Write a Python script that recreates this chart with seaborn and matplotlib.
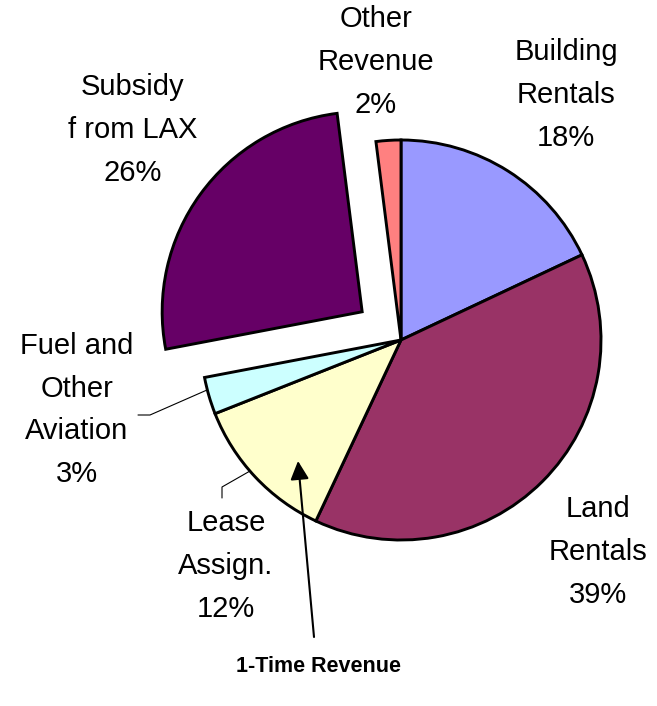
import matplotlib
matplotlib.use("Agg")
import matplotlib.pyplot as plt
import seaborn as sns

# revenue shares, clockwise from 12 o'clock
categories = ["Building Rentals", "Land Rentals", "Lease Assign.",
              "Fuel and Other Aviation", "Subsidy from LAX", "Other Revenue"]
shares = [18, 39, 12, 3, 26, 2]
labels = ["Building\nRentals\n18%", "Land\nRentals\n39%", "Lease\nAssign.\n12%",
          "Fuel and\nOther\nAviation\n3%", "Subsidy\nf rom LAX\n26%", "Other\nRevenue\n2%"]
colors = ["#9999FF", "#993366", "#FFFFCC", "#CCFFFF", "#660066", "#FF8080"]
explode_frac = [0, 0, 0, 0, 0.24, 0]

sns.set_theme(style="white")
plt.rcParams["font.family"] = ["Liberation Sans", "DejaVu Sans"]

W, H = 657, 706
fig = plt.figure(figsize=(W / 100, H / 100), dpi=100)
ax = fig.add_axes([0, 0, 1, 1])

cx, cy, r = 401, H - 340, 200
# matplotlib's explode is in data units, so scale by the radius
ax.pie(shares, colors=sns.color_palette(colors), explode=[e * r for e in explode_frac],
       startangle=90, counterclock=False, center=(cx, cy), radius=r, frame=True,
       wedgeprops=dict(edgecolor="black", linewidth=2.1))
ax.set_xlim(0, W)
ax.set_ylim(0, H)
ax.set_aspect("equal")
ax.axis("off")

# label positions (pixel coords from top-left)
label_pos = [(566, 95), (598, 552), (226, 566), (77, 410), (133, 130), (376, 62)]
for txt, (x, y) in zip(labels, label_pos):
    ax.text(x, H - y, txt, ha="center", va="center", fontsize=21,
            linespacing=1.67, color="black")

# leader lines
ax.plot([207, 150, 138], [H - 390, H - 415, H - 415], color="black", lw=0.8)
ax.plot([250, 222, 222], [H - 471, H - 487, H - 498], color="black", lw=0.8)

# 1-time revenue arrow
ax.annotate("", xy=(298, H - 461), xytext=(314, H - 637),
            arrowprops=dict(arrowstyle="-|>", color="black", lw=1.5,
                            mutation_scale=28, shrinkA=0, shrinkB=0))
ax.text(318, H - 667, "1-Time Revenue", ha="center", va="center",
        fontsize=15.5, fontweight="bold", color="black")

fig.savefig("out.png", dpi=100)
